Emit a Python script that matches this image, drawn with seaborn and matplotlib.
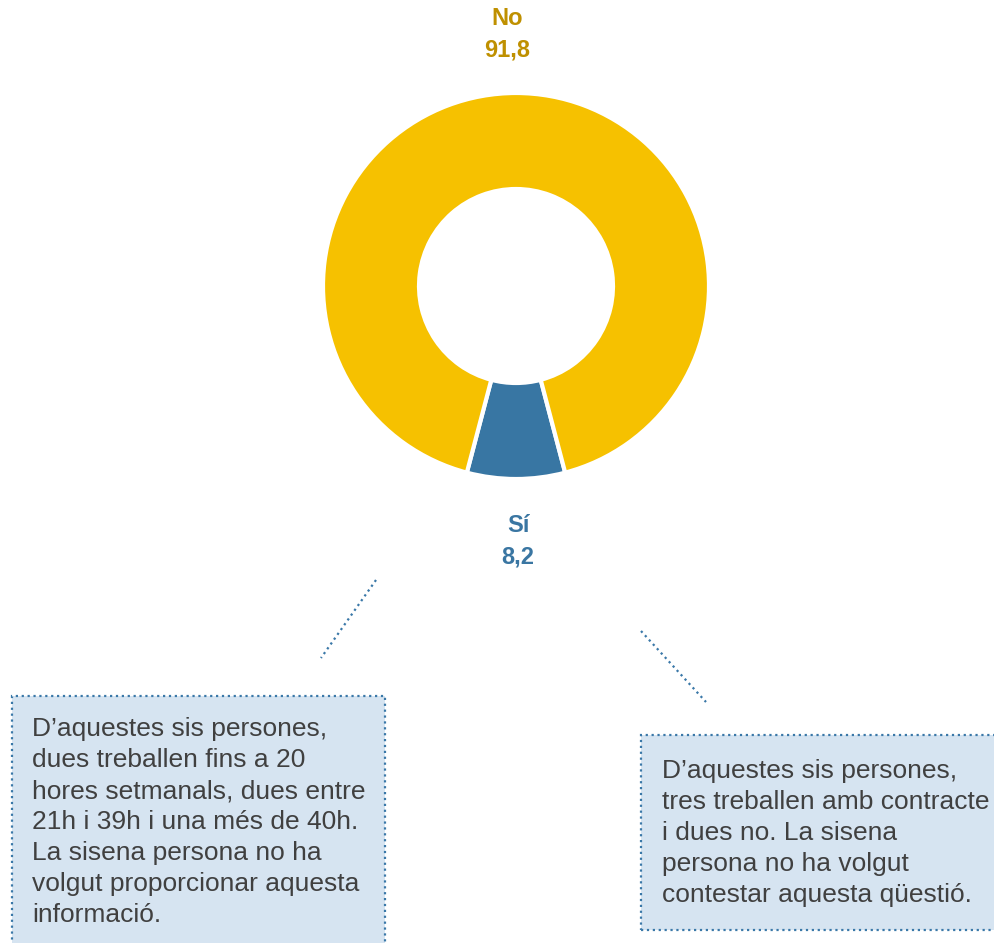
import matplotlib
matplotlib.use("Agg")
import matplotlib.pyplot as plt
from matplotlib.patches import Rectangle
import seaborn as sns

# dades
categories = ["Sí", "No"]
values = [8.2, 91.8]
colors = ["#3876A3", "#F6C100"]
label_colors = ["#3A76A2", "#BF9000"]

note_left = ("D’aquestes sis persones,\n"
             "dues treballen fins a 20\n"
             "hores setmanals, dues entre\n"
             "21h i 39h i una més de 40h.\n"
             "La sisena persona no ha\n"
             "volgut proporcionar aquesta\n"
             "informació.")
note_right = ("D’aquestes sis persones,\n"
              "tres treballen amb contracte\n"
              "i dues no. La sisena\n"
              "persona no ha volgut\n"
              "contestar aquesta qüestió.")

sns.set_theme(style="white")
plt.rcParams["font.family"] = ["Liberation Sans", "DejaVu Sans"]

W, H = 994, 943
fig = plt.figure(figsize=(W / 100, H / 100), dpi=100)
ax = fig.add_axes([0, 0, 1, 1])

# donut: Sí centrat a baix
start = 270 - values[0] / sum(values) * 360 / 2
ax.pie(values, colors=colors, startangle=start, counterclock=True,
       center=(516, H - 286), radius=193, frame=True,
       wedgeprops=dict(width=96, edgecolor="white", linewidth=3))
ax.set_xlim(0, W)
ax.set_ylim(0, H)
ax.axis("off")

# etiquetes
fmt = lambda v: f"{v:.1f}".replace(".", ",")
ax.text(507, H - 34, f"{categories[1]}\n{fmt(values[1])}", ha="center", va="center",
        fontsize=17, fontweight="bold", color=label_colors[1], linespacing=1.48)
ax.text(518, H - 541, f"{categories[0]}\n{fmt(values[0])}", ha="center", va="center",
        fontsize=17, fontweight="bold", color=label_colors[0], linespacing=1.48)

# línies puntejades
line_kw = dict(color="#3A78A8", linestyle=":", linewidth=1.6)
ax.plot([376, 321], [H - 580, H - 658], **line_kw)
ax.plot([641, 706], [H - 631, H - 702], **line_kw)

# requadres
box_kw = dict(facecolor="#D6E4F1", edgecolor="#3A78A8", linestyle=":", linewidth=1.6)
ax.add_patch(Rectangle((12, -20), 373, H - 696 + 20, **box_kw))
ax.add_patch(Rectangle((641, H - 930), 380, 930 - 735, **box_kw))

ax.text(32, H - 717, note_left, ha="left", va="top", fontsize=19,
        color="#404040", linespacing=1.37)
ax.text(662, H - 759, note_right, ha="left", va="top", fontsize=19,
        color="#404040", linespacing=1.37)

fig.savefig("out.png", dpi=100)
